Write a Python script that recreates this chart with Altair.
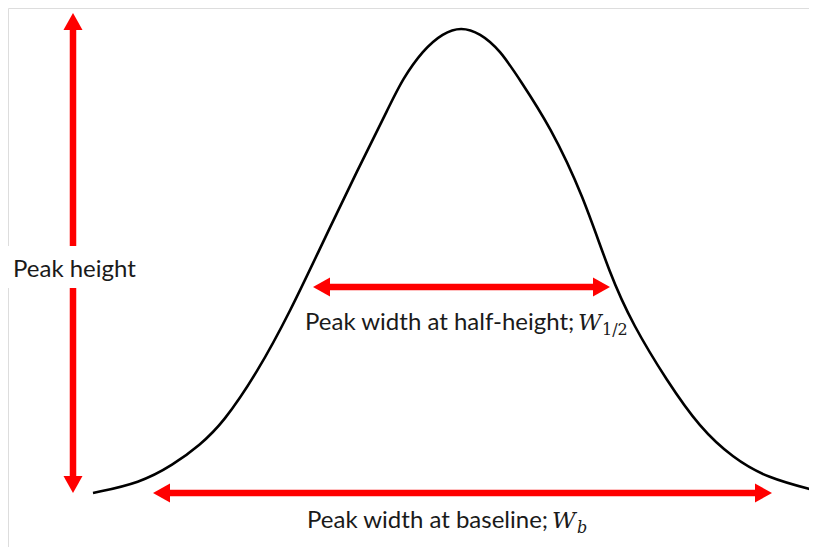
import altair as alt
import pandas as pd

# ---- peak curve (time units ~ px, signal above baseline) ----
curve_t = [93, 140, 173, 200, 223, 257, 290, 323, 357, 390, 402, 423, 443, 461,
           480, 500, 520, 550, 583, 610, 633, 667, 700, 733, 767, 817]
curve_s = [0, 10, 28, 48, 70, 120, 181, 251, 322, 388, 413, 443, 460, 466,
           460, 443, 413, 367, 298, 218, 168, 112, 65, 35, 15, 2]

# ---- double-headed arrows (tip to tip) ----
arrow_name = ["height", "half", "base"]
arrow_t1 = [73, 313, 153]
arrow_s1 = [480, 206, 0]
arrow_t2 = [73, 610, 772]
arrow_s2 = [0, 206, 0]

# ---- labels ----
label_text = ["Peak height", "Peak width at half-height;", "Peak width at baseline;"]
label_t = [13, 305, 307]
label_s = [216, 163, -35]

sym_text = ["W", "W"]
sym_t = [578, 552]
sym_s = [163, -35]

sub_text = ["1/2", "b"]
sub_t = [602, 577]
sub_s = [158, -40]

# label background box behind "Peak height"
box_t1, box_t2, box_s1, box_s2 = [3], [140], [205], [247]

RED = "#ff0000"
HEAD = 17  # arrow head length (data units == px)

xs = alt.Scale(domain=[8, 809])
ys = alt.Scale(domain=[-54, 485])

curve_df = pd.DataFrame({"t": curve_t, "s": curve_s})

# shafts stop at the head bases
shaft_rows = []
head_rows = []
shapes = {
    "up": "M0,0L-0.56,1L0.56,1Z",
    "down": "M0,0L-0.56,-1L0.56,-1Z",
    "left": "M0,0L1,-0.56L1,0.56Z",
    "right": "M0,0L-1,-0.56L-1,0.56Z",
}
for n, t1, s1, t2, s2 in zip(arrow_name, arrow_t1, arrow_s1, arrow_t2, arrow_s2):
    if t1 == t2:  # vertical
        hi, lo = max(s1, s2), min(s1, s2)
        shaft_rows.append({"t": t1, "s": hi - HEAD, "t2": t2, "s2": lo + HEAD})
        head_rows.append({"t": t1, "s": hi, "dir": "up"})
        head_rows.append({"t": t1, "s": lo, "dir": "down"})
    else:
        l, r = min(t1, t2), max(t1, t2)
        shaft_rows.append({"t": l + HEAD, "s": s1, "t2": r - HEAD, "s2": s2})
        head_rows.append({"t": l, "s": s1, "dir": "left"})
        head_rows.append({"t": r, "s": s1, "dir": "right"})
shaft_df = pd.DataFrame(shaft_rows)
head_df = pd.DataFrame(head_rows)

X = lambda f: alt.X(f, type="quantitative", scale=xs, axis=None)
Y = lambda f: alt.Y(f, type="quantitative", scale=ys, axis=None)

curve = alt.Chart(curve_df).mark_line(
    color="black", strokeWidth=2.6, interpolate="basis"
).encode(x=X("t"), y=Y("s"))

shafts = alt.Chart(shaft_df).mark_rule(color=RED, strokeWidth=6.5, strokeCap="butt").encode(
    x=X("t"), y=Y("s"), x2="t2", y2="s2"
)

heads = []
for d, path in shapes.items():
    heads.append(
        alt.Chart(head_df[head_df["dir"] == d]).mark_point(
            shape=path, size=(2 * HEAD) ** 2, filled=True, color=RED,
            opacity=1, strokeWidth=0
        ).encode(x=X("t"), y=Y("s"))
    )

box = alt.Chart(pd.DataFrame({"t": box_t1, "t2": box_t2, "s": box_s1, "s2": box_s2})).mark_rect(
    color="white"
).encode(x=X("t"), x2="t2", y=Y("s"), y2="s2")

labels = alt.Chart(pd.DataFrame({"t": label_t, "s": label_s, "txt": label_text})).mark_text(
    align="left", baseline="alphabetic", font="Lato", fontSize=24, color="#1a1a1a"
).encode(x=X("t"), y=Y("s"), text="txt:N")

syms = alt.Chart(pd.DataFrame({"t": sym_t, "s": sym_s, "txt": sym_text})).mark_text(
    align="left", baseline="alphabetic", font="DejaVu Serif", fontStyle="italic",
    fontSize=23, color="#1a1a1a"
).encode(x=X("t"), y=Y("s"), text="txt:N")

subs_df = pd.DataFrame({"t": sub_t, "s": sub_s, "txt": sub_text})
sub_up = alt.Chart(subs_df.iloc[[0]]).mark_text(
    align="left", baseline="alphabetic", font="DejaVu Serif",
    fontSize=16, color="#1a1a1a"
).encode(x=X("t"), y=Y("s"), text="txt:N")
sub_it = alt.Chart(subs_df.iloc[[1]]).mark_text(
    align="left", baseline="alphabetic", font="DejaVu Serif", fontStyle="italic",
    fontSize=16, color="#1a1a1a"
).encode(x=X("t"), y=Y("s"), text="txt:N")

chart = alt.layer(curve, shafts, *heads, box, labels, syms, sub_up, sub_it).properties(
    width=801, height=539, padding=0,
    autosize=alt.AutoSizeParams(type="none"),
).configure_view(stroke=None).configure(background="white")

chart.save("out.html", embed_options={"renderer": "svg", "actions": False})
